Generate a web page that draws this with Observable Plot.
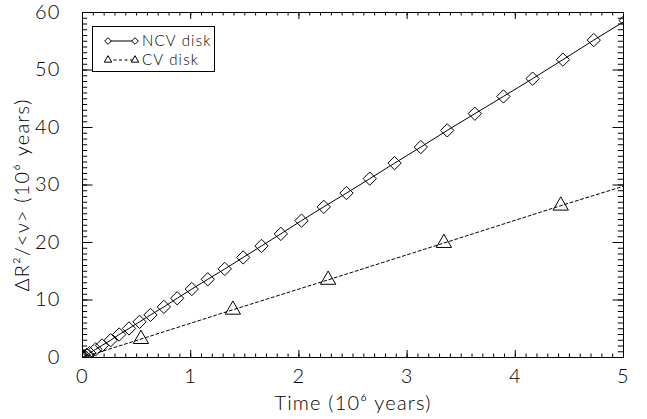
<!DOCTYPE html>
<html>
<head>
<meta charset="utf-8">
<script src="https://cdn.jsdelivr.net/npm/d3@7"></script>
<script src="https://cdn.jsdelivr.net/npm/@observablehq/plot@0.6"></script>
<style>
  body { margin: 0; background: #fff; }
  #chart { position: relative; width: 647px; height: 419px; }
  #chart svg { display: block; }
  #chart text { letter-spacing: 1.2px; }
  #legend { position: absolute; left: 0; top: 0; pointer-events: none; }
</style>
</head>
<body>
<div id="chart"></div>
<script>
// Mean squared radial displacement over mean viscosity, versus time (both in Myr)
const ncvTime = [0, 0.006, 0.018, 0.038, 0.065, 0.12, 0.18, 0.26, 0.339, 0.43, 0.527, 0.628,
  0.752, 0.875, 1.01, 1.158, 1.315, 1.485, 1.654, 1.833, 2.024, 2.23, 2.44, 2.655, 2.884,
  3.127, 3.371, 3.626, 3.89, 4.16, 4.44, 4.725, 5.02];
const ncvDr2 = [0, 0.07, 0.21, 0.44, 0.76, 1.4, 2.1, 3.0, 4.0, 5.05, 6.2, 7.4,
  8.8, 10.3, 11.9, 13.6, 15.4, 17.4, 19.4, 21.5, 23.8, 26.2, 28.6, 31.1, 33.8,
  36.6, 39.5, 42.4, 45.4, 48.5, 51.8, 55.2, 58.6];
const cvTime = [0, 0.54, 1.39, 2.27, 3.34, 4.42, 5.6];
const cvDr2 = [0, 3.2, 8.3, 13.5, 19.9, 26.4, 33.3];

const xTicks = [0, 1, 2, 3, 4, 5];
const yTicks = [0, 10, 20, 30, 40, 50, 60];
const xMinor = d3.range(0, 50.5, 1).map(d => d / 10);
const yMinor = d3.range(0, 60.5, 1);

const seriesNames = ["NCV disk", "CV disk"];
const xLabel = "Time (10\u2076 years)";
const yLabel = "\u0394R\u00B2/<\u03BD> (10\u2076 years)";

const W = 647, H = 419;
const mL = 82, mR = 24, mT = 12, mB = 62;
const innerW = W - mL - mR, innerH = H - mT - mB;
const font = "Lato, 'Open Sans', 'DejaVu Sans', sans-serif";

const ncv = ncvTime.map((t, i) => ({t, v: ncvDr2[i]}));
const cv = cvTime.map((t, i) => ({t, v: cvDr2[i]}));

// inward tick helpers (boxed axes with ticks on all four sides)
const majX = 7, minX = 3.5, majY = 10.5, minY = 5.2;
const ticks = [
  Plot.tickX(xMinor, {x: d => d, insetTop: innerH - minX, stroke: "#000"}),
  Plot.tickX(xMinor, {x: d => d, insetBottom: innerH - minX, stroke: "#000"}),
  Plot.tickX(xTicks, {x: d => d, insetTop: innerH - majX, stroke: "#000"}),
  Plot.tickX(xTicks, {x: d => d, insetBottom: innerH - majX, stroke: "#000"}),
  Plot.tickY(yMinor, {y: d => d, insetRight: innerW - minY, stroke: "#000"}),
  Plot.tickY(yMinor, {y: d => d, insetLeft: innerW - minY, stroke: "#000"}),
  Plot.tickY(yTicks, {y: d => d, insetRight: innerW - majY, stroke: "#000"}),
  Plot.tickY(yTicks, {y: d => d, insetLeft: innerW - majY, stroke: "#000"})
];

const chart = Plot.plot({
  width: W, height: H,
  marginLeft: mL, marginRight: mR, marginTop: mT, marginBottom: mB,
  style: {fontFamily: font, fontSize: "20px", color: "#000", background: "#fff", fontWeight: 300},
  x: {domain: [0, 5], label: null},
  y: {domain: [0, 60], label: null},
  marks: [
    Plot.line(ncv, {x: "t", y: "v", stroke: "#000", strokeWidth: 1, clip: true}),
    Plot.dot(ncv, {x: "t", y: "v", symbol: "diamond2", r: 6, stroke: "#000", fill: "none", strokeWidth: 1, clip: true}),
    Plot.line(cv, {x: "t", y: "v", stroke: "#000", strokeWidth: 1, strokeDasharray: "3,2.5", clip: true}),
    Plot.dot(cv, {x: "t", y: "v", symbol: "triangle2", r: 7.3, stroke: "#000", fill: "none", strokeWidth: 1, clip: true}),
    ...ticks,
    Plot.frame({stroke: "#000", strokeWidth: 1}),
    Plot.axisX(xTicks, {tickSize: 0, tickPadding: 11, fontSize: 20, tickFormat: d3.format("d")}),
    Plot.axisY(yTicks, {tickSize: 0, tickPadding: 22, fontSize: 20, tickFormat: d3.format("d")}),
    Plot.text([xLabel], {text: d => d, frameAnchor: "bottom", dy: 52, fontSize: 20}),
    Plot.text([yLabel], {text: d => d, frameAnchor: "left", textAnchor: "middle", rotate: -90, dx: -60, dy: 10, fontSize: 20})
  ]
});

const host = document.getElementById("chart");
host.appendChild(chart);

// legend box in the upper left of the plot area
const leg = d3.select(host).append("svg")
  .attr("id", "legend").attr("width", W).attr("height", H)
  .style("font-family", font).style("font-size", "15px").style("font-weight", 300)
  .style("letter-spacing", "1px");
leg.append("rect").attr("x", 92.5).attr("y", 26.5).attr("width", 122).attr("height", 45)
  .attr("fill", "#fff").attr("stroke", "#000");
const rows = [
  {name: seriesNames[0], y: 41, dash: null, sym: d3.symbolDiamond2, size: 28},
  {name: seriesNames[1], y: 60, dash: "3,2.5", sym: d3.symbolTriangle2, size: 40}
];
rows.forEach(r => {
  leg.append("line").attr("x1", 108).attr("x2", 135).attr("y1", r.y).attr("y2", r.y)
    .attr("stroke", "#000").attr("stroke-dasharray", r.dash);
  [108, 135].forEach(x => {
    leg.append("path").attr("d", d3.symbol(r.sym, r.size)())
      .attr("transform", `translate(${x},${r.y})`)
      .attr("fill", "#fff").attr("stroke", "#000");
  });
  leg.append("text").attr("x", 142).attr("y", r.y).attr("dy", "0.36em").text(r.name);
});
</script>
</body>
</html>
